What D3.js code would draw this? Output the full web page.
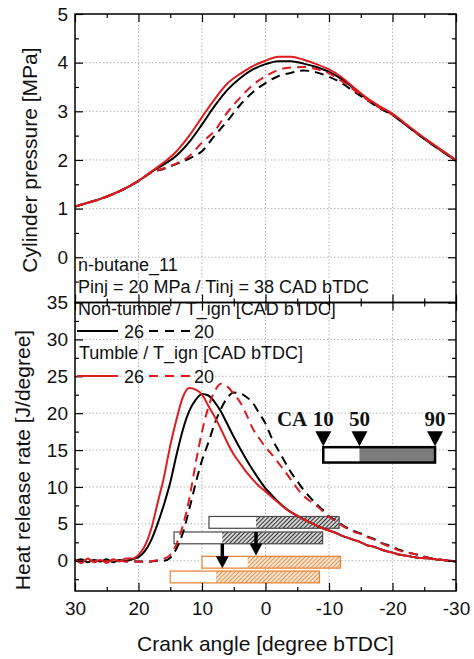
<!DOCTYPE html>
<html>
<head>
<meta charset="utf-8">
<script src="https://cdn.jsdelivr.net/npm/d3@7"></script>
<style>
  body { margin: 0; background: #fff; }
  svg text { font-family: Arial, "Liberation Sans", sans-serif; fill: #111; }
</style>
</head>
<body>
<div id="chart"></div>
<script>
// ---- data ----
// cylinder pressure [MPa], crank angle every 2 degrees
const crankP = [30, 28, 26, 24, 22, 20, 18, 16, 14, 12, 10, 8, 6, 4, 2, 0,
  -2, -4, -6, -8, -10, -12, -14, -16, -18, -20, -22, -24, -26, -28, -30];
const pNonTumble26 = [1.04, 1.12, 1.20, 1.30, 1.42, 1.57, 1.75, 1.91, 2.09, 2.37, 2.73, 3.11, 3.44, 3.68, 3.86, 3.97,
  4.03, 4.03, 3.98, 3.91, 3.81, 3.66, 3.46, 3.26, 3.08, 2.93, 2.73, 2.53, 2.34, 2.16, 1.98];
const pNonTumble20 = [1.04, 1.12, 1.20, 1.30, 1.42, 1.57, 1.74, 1.82, 1.92, 2.03, 2.18, 2.50, 2.80, 3.13, 3.39, 3.58,
  3.72, 3.79, 3.84, 3.80, 3.71, 3.58, 3.40, 3.23, 3.06, 2.92, 2.73, 2.53, 2.34, 2.16, 1.98];
const pTumble26 = [1.04, 1.12, 1.20, 1.30, 1.42, 1.57, 1.76, 1.95, 2.18, 2.50, 2.88, 3.25, 3.57, 3.77, 3.93, 4.04,
  4.12, 4.12, 4.06, 3.97, 3.86, 3.70, 3.48, 3.27, 3.10, 2.95, 2.75, 2.55, 2.36, 2.18, 2.00];
const pTumble20 = [1.04, 1.12, 1.20, 1.30, 1.42, 1.57, 1.74, 1.83, 1.93, 2.08, 2.36, 2.60, 2.98, 3.28, 3.54, 3.72,
  3.85, 3.90, 3.91, 3.87, 3.78, 3.62, 3.43, 3.24, 3.07, 2.93, 2.74, 2.54, 2.35, 2.17, 1.99];

// heat release rate [J/degree], crank angle every degree
const crankH = [30, 29, 28, 27, 26, 25, 24, 23, 22, 21, 20, 19, 18, 17, 16, 15, 14, 13, 12, 11,
  10, 9, 8, 7, 6, 5, 4, 3, 2, 1, 0, -1, -2, -3, -4, -5, -6, -7, -8, -9,
  -10, -11, -12, -13, -14, -15, -16, -17, -18, -19, -20, -21, -22, -23, -24, -25, -26, -27, -28, -29, -30];
const hNonTumble26 = [-0.1, 0.2, -0.2, 0.1, -0.1, 0.2, -0.2, 0.1, 0.0, 0.2, 0.5, 1.3, 2.8, 5.0, 7.6, 10.6, 14.4, 17.8, 20.3, 21.8,
  22.6, 22.4, 21.5, 20.2, 18.5, 16.8, 15.2, 13.7, 12.3, 11.0, 9.8, 8.9, 8.0, 7.2, 6.6, 6.1, 5.6, 5.2, 4.8, 4.4,
  4.1, 3.8, 3.4, 3.1, 2.8, 2.5, 2.1, 1.9, 1.6, 1.3, 1.1, 0.85, 0.7, 0.55, 0.4, 0.35, 0.3, 0.15, 0.1, 0.0, -0.1];
const hNonTumble20 = [0.1, -0.1, 0.1, -0.1, 0.1, -0.1, 0.0, 0.0, -0.1, -0.1, -0.1, -0.1, -0.1, 0.0, 0.0, 0.4, 1.7, 3.8, 7.0, 10.5,
  13.6, 16.0, 18.6, 20.6, 22.1, 22.8, 22.7, 22.2, 21.4, 20.0, 18.6, 16.6, 15.0, 13.5, 12.0, 10.8, 9.6, 8.6, 7.7, 6.9,
  6.0, 5.5, 4.9, 4.4, 4.0, 3.7, 3.3, 3.0, 2.5, 2.2, 1.9, 1.5, 1.25, 1.0, 0.8, 0.55, 0.35, 0.2, 0.1, 0.0, -0.1];
const hTumble26 = [0.2, -0.3, 0.3, -0.2, 0.1, -0.3, 0.2, -0.1, 0.3, 0.3, 0.8, 2.0, 4.3, 7.8, 11.3, 15.6, 19.2, 22.2, 23.4, 23.2,
  22.5, 21.0, 19.5, 17.8, 16.0, 14.4, 13.2, 12.0, 11.0, 10.1, 9.4, 8.6, 7.9, 7.2, 6.6, 6.1, 5.6, 5.2, 4.8, 4.4,
  4.1, 3.8, 3.4, 3.1, 2.8, 2.5, 2.1, 1.9, 1.6, 1.3, 1.1, 0.85, 0.7, 0.55, 0.4, 0.35, 0.3, 0.15, 0.1, 0.0, -0.1];
const hTumble20 = [0.1, -0.1, 0.1, -0.1, 0.1, -0.1, 0.0, 0.0, -0.1, -0.1, -0.1, -0.2, -0.1, 0.1, 0.3, 0.8, 2.3, 4.8, 8.4, 13.2,
  17.5, 20.8, 23.0, 24.0, 23.6, 22.6, 21.5, 19.8, 17.9, 16.6, 15.4, 14.4, 13.3, 12.2, 11.0, 9.8, 8.8, 8.1, 7.5, 6.7,
  6.0, 5.4, 4.8, 4.3, 3.9, 3.6, 3.2, 2.9, 2.5, 2.1, 1.8, 1.4, 1.2, 1.0, 0.8, 0.5, 0.3, 0.2, 0.1, 0.0, -0.1];

// CA10 / CA50 / CA90 bars [CAD bTDC]
const barNames = ["Non-tumble 20", "Non-tumble 26", "Tumble 20", "Tumble 26"];
const barCA10 = [8.9, 14.4, 10.0, 15.0];
const barCA50 = [1.5, 6.8, 2.8, 7.8];
const barCA90 = [-11.6, -9.0, -11.8, -8.5];
const barLevel = [5.2, 3.1, -0.2, -2.2];
const arrowCA = [1.5, 6.8];
const arrowFrom = [3.9, 2.3];
const arrowTo = [0.7, -1.0];
const keyCA = [-9.1, -14.8, -26.7];
const keyLabels = ["10", "50", "90"];
const keyLevel = [14.35];

// tick values
const xTicks = [30, 20, 10, 0, -10, -20, -30];
const xMinor = [25, 15, 5, -5, -15, -25];
const pTicks = [0, 1, 2, 3, 4, 5];
const pMinor = [-0.5, 0.5, 1.5, 2.5, 3.5, 4.5];
const hTicks = [0, 5, 10, 15, 20, 25, 30, 35];
const hMinor = [-2.5, 2.5, 7.5, 12.5, 17.5, 22.5, 27.5, 32.5];

// ---- layout ----
const W = 474, H = 659;
const plotL = 75, plotR = 456, plotT = 14, plotM = 302.5, plotB = 591;
const red = "#dd1c1f";

const svg = d3.select("#chart").append("svg")
    .attr("width", W)
    .attr("height", H);

const x = d3.scaleLinear().domain([30, -30]).range([plotL, plotR]);
const yP = d3.scaleLinear().domain([-0.93, 5]).range([plotM, plotT]);
const yH = d3.scaleLinear().domain([-4.1, 35]).range([plotB, plotM]);

// hatch patterns for the bars
const defs = svg.append("defs");
function hatch(id, bg, color) {
    const p = defs.append("pattern").attr("id", id)
        .attr("patternUnits", "userSpaceOnUse")
        .attr("width", 3).attr("height", 3)
        .attr("patternTransform", "rotate(45)");
    p.append("rect").attr("width", 3).attr("height", 3).attr("fill", bg);
    p.append("line").attr("x1", 0.5).attr("y1", 0).attr("x2", 0.5).attr("y2", 3)
        .attr("stroke", color).attr("stroke-width", 1);
}
hatch("hatchGrey", "#d4d4d4", "#333");
hatch("hatchOrange", "#fde7d2", "#e39150");

// grid
function grid(yScale, vals) {
    svg.append("g").selectAll("line").data(xTicks.slice(1, -1)).enter().append("line")
        .attr("x1", d => x(d)).attr("x2", d => x(d))
        .attr("y1", yScale.range()[0]).attr("y2", yScale.range()[1])
        .attr("stroke", "#b5b5b5").attr("stroke-width", 1).attr("stroke-dasharray", "1.5,2");
    svg.append("g").selectAll("line").data(vals).enter().append("line")
        .attr("x1", plotL).attr("x2", plotR)
        .attr("y1", d => yScale(d)).attr("y2", d => yScale(d))
        .attr("stroke", "#b5b5b5").attr("stroke-width", 1).attr("stroke-dasharray", "1.5,2");
}
grid(yP, [0, 1, 2, 3, 4]);
grid(yH, [0, 5, 10, 15, 20, 25, 30]);

// bars (behind curves)
const bars = barNames.map((n, i) => ({name: n, ca10: barCA10[i], ca50: barCA50[i], ca90: barCA90[i], lvl: barLevel[i]}));
const barH = yH(0) - yH(1.6);
const barG = svg.append("g").selectAll("g").data(bars).enter().append("g");
barG.append("rect")
    .attr("x", d => x(d.ca10)).attr("width", d => x(d.ca50) - x(d.ca10))
    .attr("y", d => yH(d.lvl) - barH / 2).attr("height", barH)
    .attr("fill", "#fff");
barG.append("rect")
    .attr("x", d => x(d.ca50)).attr("width", d => x(d.ca90) - x(d.ca50))
    .attr("y", d => yH(d.lvl) - barH / 2).attr("height", barH)
    .attr("fill", d => d.name.startsWith("Non") ? "url(#hatchGrey)" : "url(#hatchOrange)");
barG.append("rect")
    .attr("x", d => x(d.ca10)).attr("width", d => x(d.ca90) - x(d.ca10))
    .attr("y", d => yH(d.lvl) - barH / 2).attr("height", barH)
    .attr("fill", "none").attr("stroke-width", 1.2)
    .attr("stroke", d => d.name.startsWith("Non") ? "#4a4a4a" : "#e5812f");

// arrows
arrowCA.forEach((ca, i) => {
    const ax = x(ca), y0 = yH(arrowFrom[i]), y1 = yH(arrowTo[i]);
    svg.append("line").attr("x1", ax).attr("x2", ax).attr("y1", y0).attr("y2", y1 - 10)
        .attr("stroke", "#000").attr("stroke-width", 3.5);
    svg.append("path")
        .attr("d", `M${ax - 6.5},${y1 - 12} L${ax + 6.5},${y1 - 12} L${ax},${y1} Z`)
        .attr("fill", "#000");
});

// curves
const lineP = d3.line().x((d, i) => x(crankP[i])).y(d => yP(d)).curve(d3.curveMonotoneX);
const lineH = d3.line().x((d, i) => x(crankH[i])).y(d => yH(d)).curve(d3.curveMonotoneX);
const series = [
    {p: pNonTumble26, h: hNonTumble26, color: "#000", dash: null},
    {p: pNonTumble20, h: hNonTumble20, color: "#000", dash: "9,6"},
    {p: pTumble26, h: hTumble26, color: red, dash: null},
    {p: pTumble20, h: hTumble20, color: red, dash: "9,6"}
];
series.forEach(s => {
    svg.append("path").datum(s.p).attr("d", lineP)
        .attr("fill", "none").attr("stroke", s.color).attr("stroke-width", 2)
        .attr("stroke-dasharray", s.dash);
    svg.append("path").datum(s.h).attr("d", lineH)
        .attr("fill", "none").attr("stroke", s.color).attr("stroke-width", 2)
        .attr("stroke-dasharray", s.dash);
});

// CA10/50/90 key
const keyG = svg.append("g");
const kTop = yH(keyLevel[0]) - barH * 0.65, kH = barH * 1.3;
keyG.append("rect").attr("x", x(keyCA[0])).attr("width", x(keyCA[1]) - x(keyCA[0]))
    .attr("y", kTop).attr("height", kH).attr("fill", "#fff");
keyG.append("rect").attr("x", x(keyCA[1])).attr("width", x(keyCA[2]) - x(keyCA[1]))
    .attr("y", kTop).attr("height", kH).attr("fill", "#7c7c7c");
keyG.append("rect").attr("x", x(keyCA[0])).attr("width", x(keyCA[2]) - x(keyCA[0]))
    .attr("y", kTop).attr("height", kH).attr("fill", "none")
    .attr("stroke", "#000").attr("stroke-width", 2.5);
keyG.selectAll(".tri").data(keyCA).enter().append("path").attr("class", "tri")
    .attr("d", d => `M${x(d) - 8},${kTop - 16} L${x(d) + 8},${kTop - 16} L${x(d)},${kTop - 1} Z`)
    .attr("fill", "#000");
keyG.selectAll(".klab").data(keyCA).enter().append("text").attr("class", "klab")
    .attr("x", d => x(d)).attr("y", kTop - 21)
    .attr("text-anchor", "middle")
    .style("font-family", "'Liberation Serif', 'Times New Roman', serif")
    .style("font-weight", "bold").style("font-size", "21px")
    .text((d, i) => keyLabels[i]);
keyG.append("text")
    .attr("x", x(keyCA[0]) - 16).attr("y", kTop - 21)
    .attr("text-anchor", "end")
    .style("font-family", "'Liberation Serif', 'Times New Roman', serif")
    .style("font-weight", "bold").style("font-size", "21px")
    .text("CA");

// axes: ticks inside on all sides
function ticks(axis, tx, ty, vals, size, labels) {
    const g = svg.append("g").attr("transform", `translate(${tx},${ty})`)
        .call(axis.tickValues(vals).tickSize(-size).tickPadding(labels ? 7 : 0)
            .tickFormat(labels ? (d => String(d)) : ""));
    g.select(".domain").remove();
    g.selectAll("line").attr("stroke", "#000").attr("stroke-width", 1.2);
    g.selectAll("text").style("font-size", "19px").style("font-family", "Arial, 'Liberation Sans', sans-serif");
    return g;
}
// top panel
ticks(d3.axisLeft(yP), plotL, 0, pTicks, 8, true);
ticks(d3.axisLeft(yP), plotL, 0, pMinor, 4, false);
ticks(d3.axisRight(yP), plotR, 0, pTicks, 8, false);
ticks(d3.axisRight(yP), plotR, 0, pMinor, 4, false);
ticks(d3.axisTop(x), 0, plotT, xTicks, 8, false);
ticks(d3.axisTop(x), 0, plotT, xMinor, 4, false);
ticks(d3.axisBottom(x), 0, plotM, xTicks, 8, false);
ticks(d3.axisBottom(x), 0, plotM, xMinor, 4, false);
// bottom panel
ticks(d3.axisLeft(yH), plotL, 0, hTicks, 8, true);
ticks(d3.axisLeft(yH), plotL, 0, hMinor, 4, false);
ticks(d3.axisRight(yH), plotR, 0, hTicks, 8, false);
ticks(d3.axisRight(yH), plotR, 0, hMinor, 4, false);
ticks(d3.axisTop(x), 0, plotM, xTicks, 8, false);
ticks(d3.axisTop(x), 0, plotM, xMinor, 4, false);
ticks(d3.axisBottom(x), 0, plotB, xTicks, 8, true).selectAll("text").attr("y", 10.5);
ticks(d3.axisBottom(x), 0, plotB, xMinor, 4, false);

// frames
svg.append("rect").attr("x", plotL).attr("y", plotT).attr("width", plotR - plotL).attr("height", plotM - plotT)
    .attr("fill", "none").attr("stroke", "#000").attr("stroke-width", 1.5);
svg.append("rect").attr("x", plotL).attr("y", plotM).attr("width", plotR - plotL).attr("height", plotB - plotM)
    .attr("fill", "none").attr("stroke", "#000").attr("stroke-width", 1.5);

// axis titles
svg.append("text").attr("transform", "translate(37,160) rotate(-90)")
    .attr("text-anchor", "middle").style("font-size", "21px").text("Cylinder pressure [MPa]");
svg.append("text").attr("transform", "translate(30,460) rotate(-90)")
    .attr("text-anchor", "middle").style("font-size", "21px").text("Heat release rate [J/degree]");
svg.append("text").attr("x", (plotL + plotR) / 2).attr("y", 651)
    .attr("text-anchor", "middle").style("font-size", "21px").text("Crank angle [degree bTDC]");

// legend / notes
const note = (tx, ty, s) => svg.append("text").attr("x", tx).attr("y", ty)
    .style("font-size", "18px").text(s);
note(78, 270.5, "n-butane_11");
note(78, 293, "Pinj = 20 MPa / Tinj = 38 CAD bTDC");
note(78, 315, "Non-tumble / T_ign [CAD bTDC]");
note(79, 359, "Tumble / T_ign [CAD bTDC]");
[{c: "#000", y: 331}, {c: red, y: 376}].forEach(k => {
    svg.append("line").attr("x1", 77).attr("x2", 118).attr("y1", k.y).attr("y2", k.y)
        .attr("stroke", k.c).attr("stroke-width", 2);
    svg.append("line").attr("x1", 149).attr("x2", 191).attr("y1", k.y).attr("y2", k.y)
        .attr("stroke", k.c).attr("stroke-width", 2).attr("stroke-dasharray", "9,7");
    note(124, k.y + 6.5, "26");
    note(194, k.y + 6.5, "20");
});
</script>
</body>
</html>
